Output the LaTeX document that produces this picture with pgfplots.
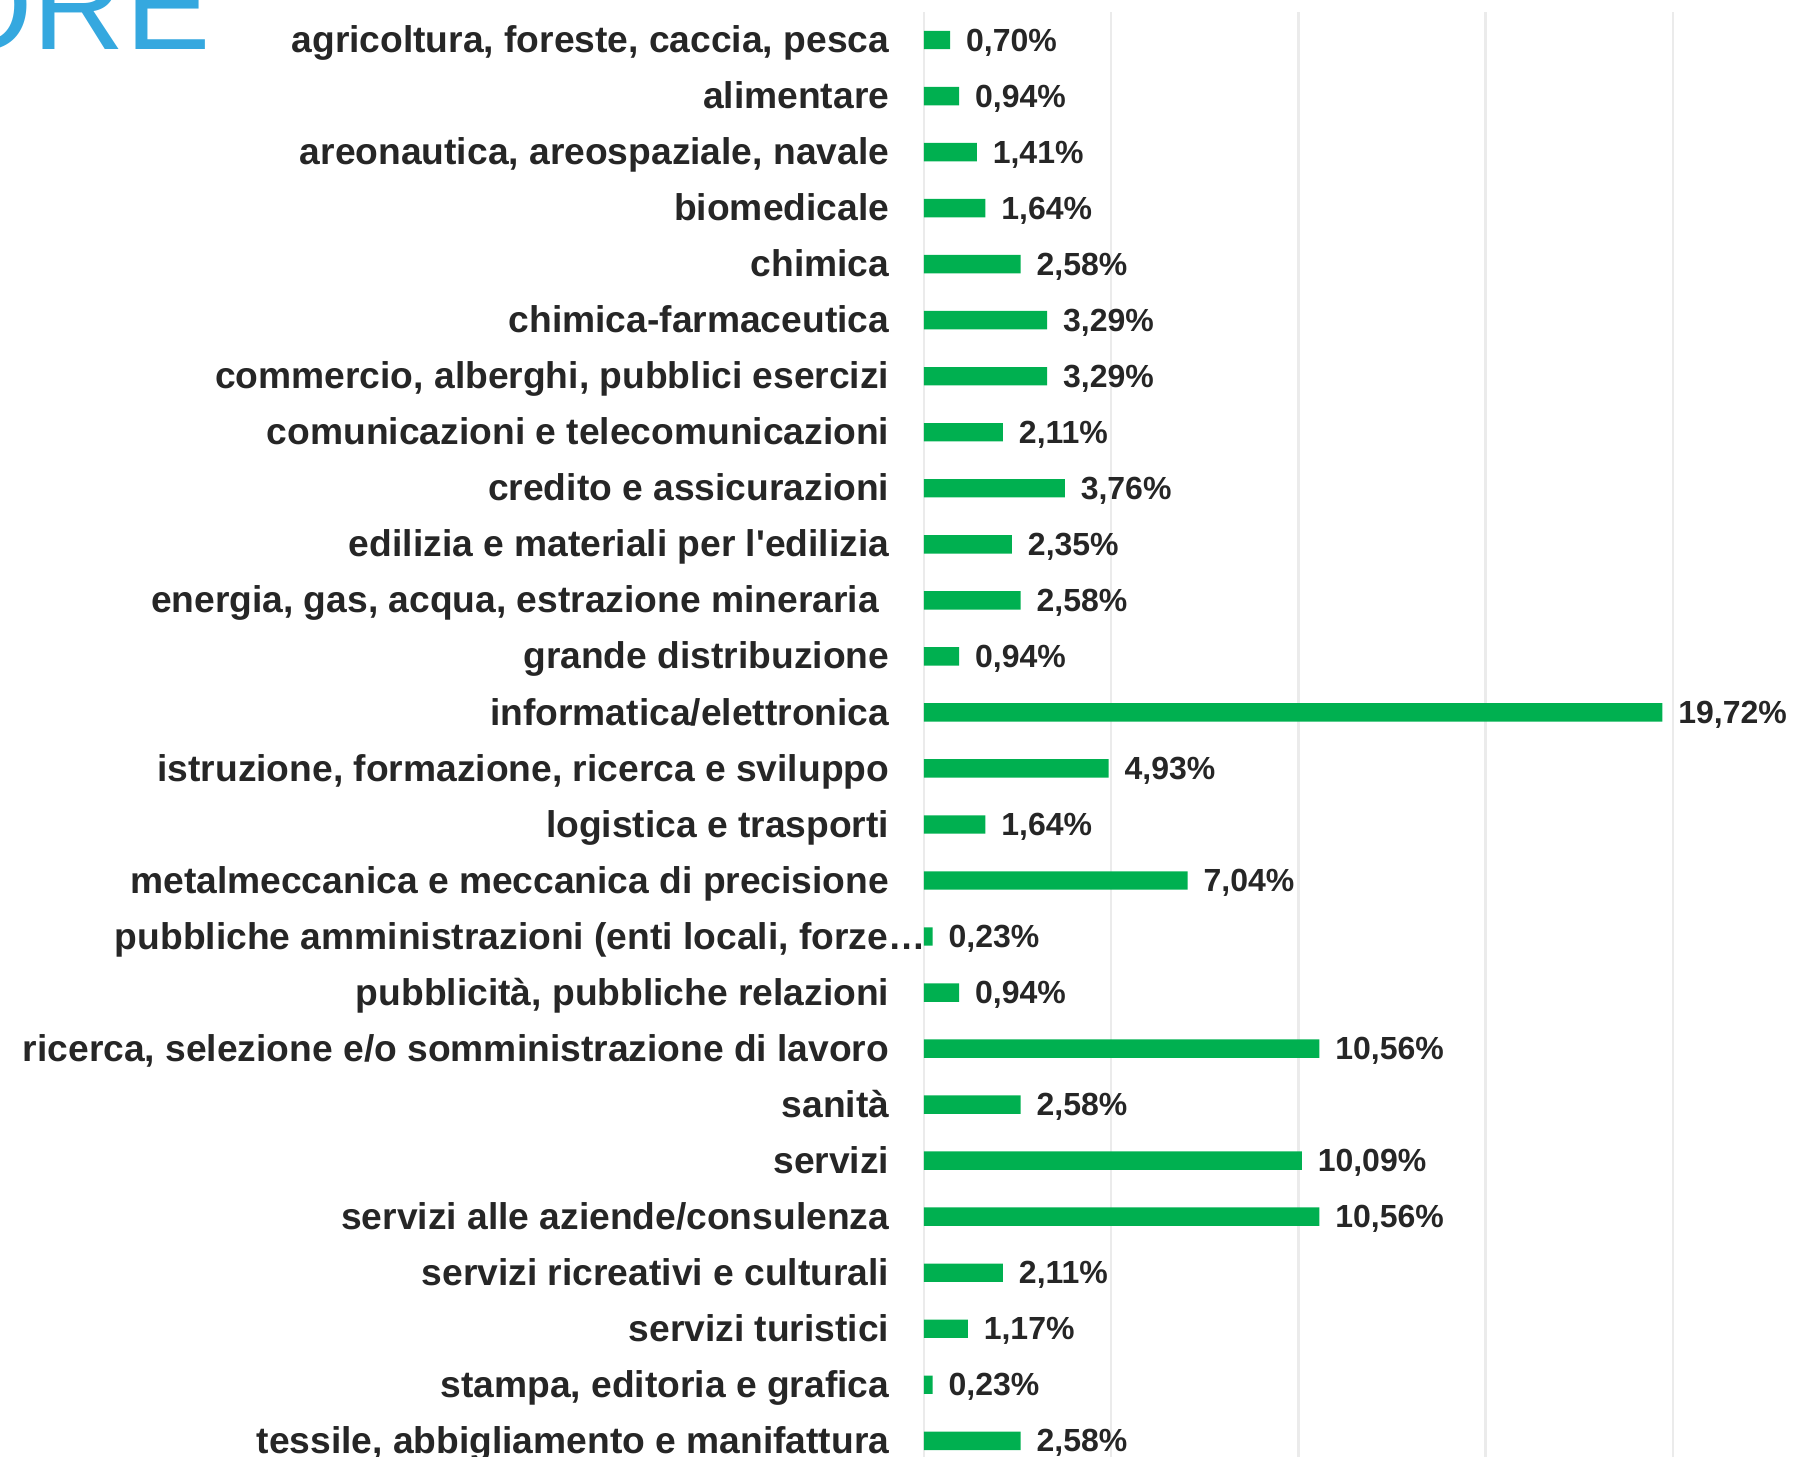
\documentclass[border=0pt]{standalone}
\usepackage{pgfplots}
\pgfplotsset{compat=1.18}
\usepackage{fontspec}
\setmainfont{Liberation Sans}
\definecolor{bargreen}{HTML}{00B050}
\definecolor{txt}{HTML}{262626}
\definecolor{gridc}{HTML}{EBEBEB}
\definecolor{titleblue}{HTML}{35A8DF}
\begin{document}
\begin{tikzpicture}[x=1pt,y=1pt]
\begin{axis}[
 at={(231pt,-3pt)}, anchor=north west,
 scale only axis, width=187.2pt, height=364.2pt,
 xbar, bar width=4.6pt, bar shift=0pt,
 xmin=0, xmax=20, ymin=-0.5, ymax=25.5, y dir=reverse,
 axis line style={draw=none},
 xtick={0,5,10,15,20}, xticklabels={}, xmajorgrids, grid style={gridc, line width=0.6pt},
 ytick={0,...,25}, major tick length=0pt,
 yticklabels={
 {agricoltura, foreste, caccia, pesca},
 {alimentare},
 {areonautica, areospaziale, navale},
 {biomedicale},
 {chimica},
 {chimica-farmaceutica},
 {commercio, alberghi, pubblici esercizi},
 {comunicazioni e telecomunicazioni},
 {credito e assicurazioni},
 {edilizia e materiali per l\textquotesingle edilizia},
 {energia, gas, acqua, estrazione mineraria\hspace{2.6pt}\hbox{}},
 {grande distribuzione},
 {informatica/elettronica},
 {istruzione, formazione, ricerca e sviluppo},
 {logistica e trasporti},
 {metalmeccanica e meccanica di precisione},
 {pubbliche amministrazioni (enti locali, forze…\hspace{-9pt}\hbox{}},
 {pubblicità, pubbliche relazioni},
 {ricerca, selezione e/o somministrazione di lavoro},
 {sanità},
 {servizi},
 {servizi alle aziende/consulenza},
 {servizi ricreativi e culturali},
 {servizi turistici},
 {stampa, editoria e grafica},
 {tessile, abbigliamento e manifattura}},
 yticklabel style={font=\fontsize{9.3}{11}\selectfont\bfseries, text=txt, inner sep=0pt, xshift=-8.5pt, yshift=-0.6pt, text height=6.7pt, text depth=1.6pt},
 point meta=x,
 nodes near coords={\pgfmathprintnumber[fixed,fixed zerofill,precision=2,use comma,assume math mode=true]{\pgfplotspointmeta}\%},
 nodes near coords style={font=\fontsize{8}{10}\selectfont\bfseries, text=txt, anchor=west, inner sep=0pt, xshift=3.8pt, yshift=-0.6pt, text height=5.7pt, text depth=1.4pt},
 clip=false,
]
\addplot[fill=bargreen, draw=none] coordinates {
(0.70,0) (0.94,1) (1.41,2) (1.64,3) (2.58,4) (3.29,5) (3.29,6) (2.11,7) (3.76,8) (2.35,9)
(2.58,10) (0.94,11) (19.72,12) (4.93,13) (1.64,14) (7.04,15) (0.23,16) (0.94,17) (10.56,18) (2.58,19)
(10.09,20) (10.56,21) (2.11,22) (1.17,23) (0.23,24) (2.58,25)};
\end{axis}
\node[anchor=base east, text=titleblue, font=\fontsize{32}{32}\selectfont, inner sep=0pt] at (52.8pt,-12.25pt) {ORE};
\pgfresetboundingbox
\useasboundingbox (0,0) rectangle (448.25pt,-364.25pt);
\end{tikzpicture}
\end{document}
